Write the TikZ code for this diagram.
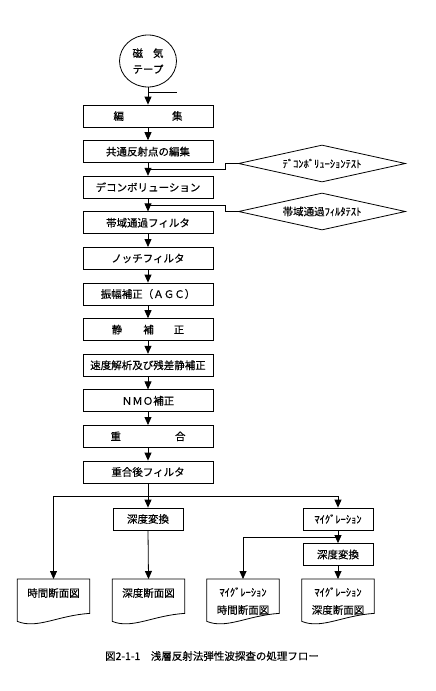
\documentclass[tikz,border=0pt]{standalone}
\usepackage{fontspec}
\setmainfont[FakeBold=0.3]{Noto Sans CJK JP}
\usetikzlibrary{arrows.meta,shapes.geometric,calc}
\begin{document}
\begin{tikzpicture}[x=1pt,y=-1pt,
  every node/.style={font=\fontsize{10.5}{12}\selectfont},
  proc/.style={draw, line width=0.8pt, minimum width=130pt, minimum height=22pt, inner sep=0pt},
  sproc/.style={draw, line width=0.8pt, minimum width=70pt, minimum height=22pt, inner sep=0pt},
  testbox/.style={draw, diamond, aspect=4.5, minimum width=167pt, minimum height=37pt, inner sep=0pt, line width=0.8pt},
  docn/.style={minimum width=72pt, minimum height=34pt, inner sep=0pt, anchor=north},
  flow/.style={line width=0.8pt, -{Triangle[width=7pt,length=8pt]}},
  link/.style={line width=0.8pt},
]
\useasboundingbox (0,0) rectangle (436,691);
\fill[white] (0,0) rectangle (436,691);

% source
\node[draw, ellipse, line width=0.8pt, minimum width=57pt, minimum height=52pt, inner sep=0pt, align=center] (tape) at (148,61) {磁\hspace{10pt}気\\[4pt]テープ};

% main column
\node[proc] (b0) at (148,116.0) {編\hspace{48pt}集\hspace{10pt}};
\node[proc] (b1) at (148,151.6) {共通反射点の編集};
\node[proc] (b2) at (148,187.2) {デコンボリューション};
\node[proc] (b3) at (148,222.8) {帯域通過フィルタ};
\node[proc] (b4) at (148,258.4) {ノッチフィルタ};
\node[proc] (b5) at (148,294.0) {振幅補正（ＡＧＣ）};
\node[proc] (b6) at (148,329.6) {静\hspace{21pt}補\hspace{20pt}正\hspace{6pt}};
\node[proc] (b7) at (148,365.2) {速度解析及び残差静補正};
\node[proc] (b8) at (148,400.8) {ＮＭＯ補正};
\node[proc] (b9) at (148,436.4) {重\hspace{54pt}合\hspace{6pt}};
\node[proc] (b10) at (148,472.0) {重合後フィルタ};

% tests
\node[testbox] (t1) at (322,163.5) {ﾃﾞｺﾝﾎﾞﾘｭｰｼｮﾝﾃｽﾄ};
\node[testbox] (t2) at (322,211.5) {帯域通過ﾌｨﾙﾀﾃｽﾄ};

% junctions
\coordinate (s0) at (148,92);
\coordinate (j1) at (148,169);
\coordinate (j2) at (148,205);
\coordinate (j10) at (148,496);
\coordinate (j11) at (338,537);

\draw[flow] (tape.south) -- (b0.north);
\draw[link] (s0) -- ++(29,0);
\draw[flow] (b0.south) -- (b1.north);
\draw[link] (b1.south) -- (j1);
\draw[flow] (j1) -- (b2.north);
\draw[link] (j1) -- ++(77,0) |- (t1.west);
\draw[link] (b2.south) -- (j2);
\draw[flow] (j2) -- (b3.north);
\draw[link] (j2) -- ++(77,0) |- (t2.west);
\draw[flow] (b3.south) -- (b4.north);
\draw[flow] (b4.south) -- (b5.north);
\draw[flow] (b5.south) -- (b6.north);
\draw[flow] (b6.south) -- (b7.north);
\draw[flow] (b7.south) -- (b8.north);
\draw[flow] (b8.south) -- (b9.north);
\draw[flow] (b9.south) -- (b10.north);

% branches
\node[sproc] (c1) at (148,519) {深度変換};
\node[sproc] (m1) at (338,519) {ﾏｲｸﾞﾚｰｼｮﾝ};
\node[sproc] (c2) at (338,554.5) {深度変換};

\node[docn] (d1) at (53.5,579) {};
\node[docn] (d2) at (148.5,579) {};
\node[docn] (d3) at (243,579) {};
\node[docn] (d4) at (338,579) {};
\foreach \d in {d1,d2,d3,d4}{
  \draw[link] (\d.north west) -- (\d.north east) -- (\d.south east)
    .. controls ($(\d.south east)+(-32,2)$) and ($(\d.south west)+(20,16)$) .. ($(\d.south west)+(0,8)$) -- cycle;
}
\node (d1t) at ($(d1.north)+(0,14)$) {時間断面図};
\node (d2t) at ($(d2.north)+(0,14)$) {深度断面図};
\node (d3a) at ($(d3.north)+(0,13)$) {ﾏｲｸﾞﾚｰｼｮﾝ};
\node (d3b) at ($(d3.north)+(0,31)$) {時間断面図};
\node (d4a) at ($(d4.north)+(0,13)$) {ﾏｲｸﾞﾚｰｼｮﾝ};
\node (d4b) at ($(d4.north)+(0,31)$) {深度断面図};

\draw[link] (b10.south) -- (j10);
\draw[flow] (j10) -| (d1.north);
\draw[flow] (j10) -- (c1.north);
\draw[flow] (j10) -| (m1.north);
\draw[flow] (c1.south) -- (d2.north);
\draw[link] (m1.south) -- (j11);
\draw[flow] (j11) -- (c2.north);
\draw[flow] (j11) -| (d3.north);
\draw[flow] (c2.south) -- (d4.north);

% caption
\node (cap) at (212,656) {図2-1-1　浅層反射法弾性波探査の処理フロー};
\end{tikzpicture}
\end{document}
